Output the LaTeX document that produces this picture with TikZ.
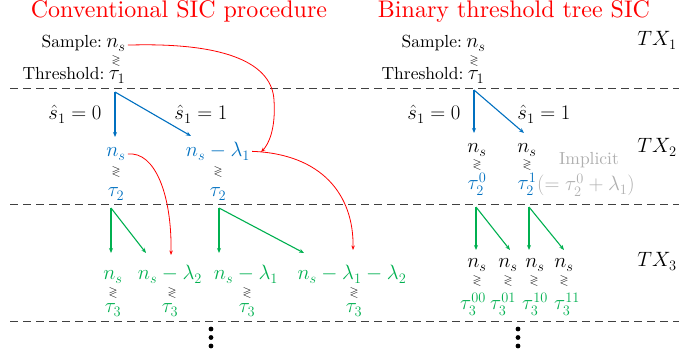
\documentclass[tikz,border=0pt]{standalone}
\usepackage{amsmath,amssymb,graphicx}
\usetikzlibrary{arrows.meta}
\definecolor{myblue}{RGB}{0,112,192}
\definecolor{mygreen}{RGB}{0,176,80}
\definecolor{mygray}{RGB}{175,175,175}
\newcommand{\txtS}[1]{\scalebox{1.75}{#1}}
\newcommand{\ttlS}[1]{\scalebox{2.4}{#1}}
\tikzset{
  txt/.style={font=\fontsize{10}{12}\selectfont, inner sep=0pt},
  mth/.style={font=\fontsize{20}{24}\selectfont, inner sep=0pt},
  cmpx/.style={font=\fontsize{11.5}{13}\selectfont, inner sep=0pt},
  ttl/.style={font=\fontsize{10}{12}\selectfont, text=red, inner sep=0pt},
  blu/.style={text=myblue},
  grn/.style={text=mygreen},
  gry/.style={text=mygray},
  barr/.style={draw=myblue, line width=1.1pt, -{Stealth[length=5pt,width=4pt]}},
  garr/.style={draw=mygreen, line width=1.1pt, -{Stealth[length=5pt,width=4pt]}},
  rarr/.style={draw=red, line width=0.8pt, -{Stealth[length=4.5pt,width=3.5pt]}},
  sep/.style={draw=black!75, line width=0.9pt, dash pattern=on 8pt off 5pt},
  dotc/.style={fill=black}
}
\begin{document}
\begin{tikzpicture}[x=1pt,y=-1pt]
\useasboundingbox (0,0) rectangle (699,355);
% separators
\draw[sep] (10,88) -- (679,88);
\draw[sep] (10,204) -- (679,204);
\draw[sep] (10,321) -- (679,321);
% titles
\node[ttl, anchor=base] (title1) at (179,18) {\ttlS{Conventional SIC procedure}};
\node[ttl, anchor=base] (title2) at (514,18) {\ttlS{Binary threshold tree SIC}};
% TX labels
\node[mth, anchor=base] (tx1) at (657,46) {$TX_1$};
\node[mth, anchor=base] (tx2) at (657,153) {$TX_2$};
\node[mth, anchor=base] (tx3) at (657,267) {$TX_3$};
% ---------- left: level 1
\node[mth, anchor=base] (ns1) at (116,48) {$n_s$};
\node[txt, anchor=base east] (sl1) at ([xshift=-4pt]ns1.base west) {\txtS{Sample:}};
\node[cmpx] (c1) at (116,61) {$\gtrless$};
\node[mth, anchor=base] (t1) at (117,80) {$\tau_1$};
\node[txt, anchor=base east] (tl1) at ([xshift=-4pt]t1.base west) {\txtS{Threshold:}};
% level 2
\coordinate (bo1) at (115,92);
\coordinate (be1) at (115,137);
\coordinate (be2) at (191,136);
\draw[barr] (bo1) -- (be1);
\draw[barr] (bo1) -- (be2);
\node[mth, anchor=base] (sh0) at (75,120) {$\hat{s}_1=0$};
\node[mth, anchor=base] (sh1) at (201,120) {$\hat{s}_1=1$};
\node[mth, blu, anchor=base] (ns2) at (116,157) {$n_s$};
\node[cmpx] (c2) at (116,172) {$\gtrless$};
\node[mth, blu, anchor=base] (t2a) at (116,197) {$\tau_2$};
\node[mth, blu, anchor=base] (nl1) at (218,157) {$n_s-\lambda_1$};
\node[cmpx] (c3) at (218,172) {$\gtrless$};
\node[mth, blu, anchor=base] (t2b) at (218,197) {$\tau_2$};
% level 3
\coordinate (go1) at (111,208);
\coordinate (go2) at (219,208);
\coordinate (ge1) at (111,253);
\coordinate (ge2) at (146,253);
\coordinate (ge3) at (219,253);
\coordinate (ge4) at (304,253);
\draw[garr] (go1) -- (ge1);
\draw[garr] (go1) -- (ge2);
\draw[garr] (go2) -- (ge3);
\draw[garr] (go2) -- (ge4);
\node[mth, grn, anchor=base] (g1) at (113,280) {$n_s$};
\node[mth, grn, anchor=base] (g2) at (170,280) {$n_s-\lambda_2$};
\node[mth, grn, anchor=base] (g3) at (246,280) {$n_s-\lambda_1$};
\node[mth, grn, anchor=base] (g4) at (352,280) {$n_s-\lambda_1-\lambda_2$};
\node[cmpx] (c4) at (113,293) {$\gtrless$};
\node[cmpx] (c5) at (172,293) {$\gtrless$};
\node[cmpx] (c6) at (247,293) {$\gtrless$};
\node[cmpx] (c7) at (354,293) {$\gtrless$};
\node[mth, grn, anchor=base] (t3a) at (113,313) {$\tau_3$};
\node[mth, grn, anchor=base] (t3b) at (170,313) {$\tau_3$};
\node[mth, grn, anchor=base] (t3c) at (247,313) {$\tau_3$};
\node[mth, grn, anchor=base] (t3d) at (354,313) {$\tau_3$};
% red curves
\coordinate (r1s) at ([xshift=2pt]ns1.east);
\coordinate (r1m) at (274,100);
\coordinate (r1e) at (261,152);
\draw[rarr] (r1s) .. controls (230,42) and (272,65) .. (r1m)
                  .. controls (276,130) and (268,145) .. (r1e);
\coordinate (r2s) at ([xshift=2pt]ns2.east);
\coordinate (r2e) at (171,255);
\draw[rarr] (r2s) .. controls (155,151) and (172,195) .. (r2e);
\coordinate (r3s) at ([xshift=2pt]nl1.east);
\coordinate (r3e) at (353,250);
\draw[rarr] (r3s) .. controls (322,154) and (354,195) .. (r3e);
% dots left
\fill[dotc] (211,329) circle (2.4);
\fill[dotc] (211,337.5) circle (2.4);
\fill[dotc] (211,346) circle (2.4);
% ---------- right: level 1
\node[mth, anchor=base] (rns1) at (476,48) {$n_s$};
\node[txt, anchor=base east] (rsl1) at ([xshift=-4pt]rns1.base west) {\txtS{Sample:}};
\node[cmpx] (rc1) at (474,61) {$\gtrless$};
\node[mth, anchor=base] (rt1) at (476,80) {$\tau_1$};
\node[txt, anchor=base east] (rtl1) at ([xshift=-4pt]rt1.base west) {\txtS{Threshold:}};
% level 2
\coordinate (rbo) at (474,90);
\coordinate (rbe1) at (474,133);
\coordinate (rbe2) at (524,133);
\draw[barr] (rbo) -- (rbe1);
\draw[barr] (rbo) -- (rbe2);
\node[mth, anchor=base] (rsh0) at (434,120) {$\hat{s}_1=0$};
\node[mth, anchor=base] (rsh1) at (544,120) {$\hat{s}_1=1$};
\node[mth, anchor=base] (rn1) at (477,153) {$n_s$};
\node[mth, anchor=base] (rn2) at (527,153) {$n_s$};
\node[cmpx] (rc2) at (477,165) {$\gtrless$};
\node[cmpx] (rc3) at (527,165) {$\gtrless$};
\node[mth, blu, anchor=base] (rt20) at (477,190) {$\tau_2^0$};
\node[mth, blu, anchor=base] (rt21) at (527,190) {$\tau_2^1$};
\node[txt, gry, anchor=base] (impl) at (589,165) {\txtS{Implicit}};
\node[font=\fontsize{21.5}{24}\selectfont, inner sep=0pt, gry, anchor=base west] (impl2) at (537,191) {$(=\tau_2^0+\lambda_1)$};
% level 3
\coordinate (rgo1) at (476,207);
\coordinate (rgo2) at (529,207);
\coordinate (rge1) at (476,250);
\coordinate (rge2) at (510,250);
\coordinate (rge3) at (529,250);
\coordinate (rge4) at (564,250);
\draw[garr] (rgo1) -- (rge1);
\draw[garr] (rgo1) -- (rge2);
\draw[garr] (rgo2) -- (rge3);
\draw[garr] (rgo2) -- (rge4);
\node[mth, anchor=base] (rg1) at (477,268) {$n_s$};
\node[mth, anchor=base] (rg2) at (508,268) {$n_s$};
\node[mth, anchor=base] (rg3) at (535,268) {$n_s$};
\node[mth, anchor=base] (rg4) at (564,268) {$n_s$};
\node[cmpx] (rc4) at (477,281) {$\gtrless$};
\node[cmpx] (rc5) at (508,281) {$\gtrless$};
\node[cmpx] (rc6) at (534,281) {$\gtrless$};
\node[cmpx] (rc7) at (564,281) {$\gtrless$};
\node[mth, grn, anchor=base] (rt3a) at (473,310) {$\tau_3^{00}$};
\node[mth, grn, anchor=base] (rt3b) at (503,310) {$\tau_3^{01}$};
\node[mth, grn, anchor=base] (rt3c) at (535,310) {$\tau_3^{10}$};
\node[mth, grn, anchor=base] (rt3d) at (567,310) {$\tau_3^{11}$};
% dots right
\fill[dotc] (518,329) circle (2.4);
\fill[dotc] (518,337.5) circle (2.4);
\fill[dotc] (518,346) circle (2.4);
\end{tikzpicture}
\end{document}
